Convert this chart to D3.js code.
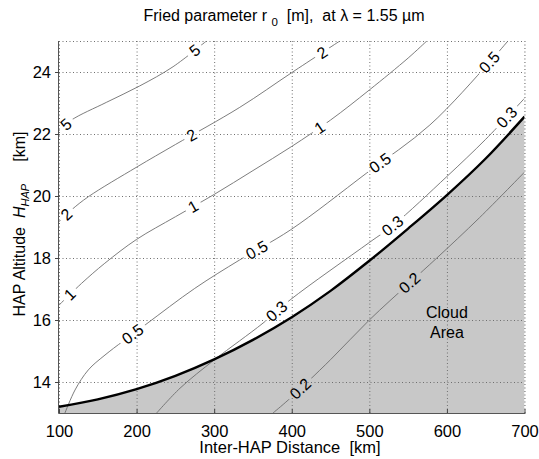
<!DOCTYPE html>
<html><head><meta charset="utf-8">
<script src="https://cdn.jsdelivr.net/npm/d3@7"></script>
<style>
body{margin:0;background:#fff;}
text{font-family:"Liberation Sans",Arial,Helvetica,sans-serif;fill:#000;}
</style></head><body>
<svg id="chart" width="539" height="459"></svg>
<script>
// ---- data ----
const xTicks = [100, 200, 300, 400, 500, 600, 700];
const yTicks = [14, 16, 18, 20, 22, 24];

// thick cloud boundary
const boundaryX = [100, 150, 200, 250, 300, 350, 400, 450, 500, 550, 600, 650, 700];
const boundaryY = [13.2, 13.44, 13.77, 14.2, 14.73, 15.36, 16.09, 16.94, 17.91, 18.95, 20.03, 21.21, 22.56];

// contour lines (r0 levels)
const c5X = [100, 116, 161, 204, 247, 290];
const c5Y = [22.1, 22.45, 23.02, 23.55, 24.17, 25.0];
const c2X = [100, 116, 138, 200, 250, 333, 400, 462];
const c2Y = [19.17, 19.55, 19.98, 20.93, 21.66, 22.86, 23.98, 25.0];
const c1X = [100, 129, 159, 200, 250, 300, 350, 400, 450, 500, 550, 574];
const c1Y = [16.48, 17.18, 17.83, 18.6, 19.33, 20.05, 20.82, 21.6, 22.45, 23.42, 24.45, 25.0];
const c05X = [107.7, 120.6, 137.8, 159.3, 211, 275, 333, 398, 496, 578, 655, 678.6];
const c05Y = [13.0, 13.74, 14.39, 14.87, 15.84, 17.02, 17.94, 18.9, 20.73, 22.29, 24.32, 25.0];
const c03X = [225.9, 256, 301, 363, 398, 500, 531, 600, 650, 700];
const c03Y = [13.0, 13.8, 14.73, 15.9, 16.65, 18.5, 19.06, 20.63, 21.83, 23.15];
const c02X = [375.8, 395.5, 450, 500, 552, 587, 642, 700];
const c02Y = [13.0, 13.42, 14.72, 16.0, 17.2, 18.0, 19.3, 20.77];

const levelNames = ["5", "2", "1", "0.5", "0.3", "0.2"];
const levelXs = [c5X, c2X, c1X, c05X, c03X, c02X];
const levelYs = [c5Y, c2Y, c1Y, c05Y, c03Y, c02Y];

// inline contour labels: level and x position (km)
const labelLevel = ["5", "5", "2", "2", "2", "1", "1", "1", "0.5", "0.5", "0.5", "0.5", "0.3", "0.3", "0.3", "0.2", "0.2"];
const labelAtX   = [109, 275, 110, 271, 439, 114, 273, 436, 195, 355, 514, 655, 381, 530, 677, 411, 552];

// ---- drawing ----
const svg = d3.select("#chart");
const L = 59, R = 524.5, T = 41, B = 413;
const x = d3.scaleLinear().domain([100, 700]).range([L, R]);
const y = d3.scaleLinear().domain([13, 25]).range([B, T]);

svg.append("rect").attr("width", 539).attr("height", 459).attr("fill", "#fff");
const defs = svg.append("defs");
defs.append("clipPath").attr("id", "plotClip").append("rect")
  .attr("x", L).attr("y", T).attr("width", R - L).attr("height", B - T);
const mask = defs.append("mask").attr("id", "gapMask").attr("maskUnits", "userSpaceOnUse")
  .attr("x", 0).attr("y", 0).attr("width", 539).attr("height", 459);
mask.append("rect").attr("width", 539).attr("height", 459).attr("fill", "#fff");

const plot = svg.append("g").attr("clip-path", "url(#plotClip)");

const curve = d3.curveCatmullRom.alpha(0.5);
const bPts = boundaryX.map((d, i) => [d, boundaryY[i]]);
plot.append("path")
  .attr("d", d3.area().x(d => x(d[0])).y0(y(13)).y1(d => y(d[1])).curve(curve)(bPts))
  .attr("fill", "#c8c8c8");

// grid
const grid = plot.append("g").attr("stroke", "#6f6f6f").attr("stroke-width", 1).attr("stroke-dasharray", "1,2.5");
xTicks.forEach(t => grid.append("line").attr("x1", x(t) + 0.5).attr("x2", x(t) + 0.5).attr("y1", T).attr("y2", B));
yTicks.forEach(t => grid.append("line").attr("y1", Math.round(y(t)) + 0.5).attr("y2", Math.round(y(t)) + 0.5).attr("x1", L).attr("x2", R));

// contours
const line = d3.line().x(d => x(d[0])).y(d => y(d[1])).curve(curve);
const cg = plot.append("g").attr("mask", "url(#gapMask)");
const paths = {};
levelNames.forEach((name, i) => {
  const pts = levelXs[i].map((d, j) => [d, levelYs[i][j]]);
  paths[name] = cg.append("path").attr("d", line(pts))
    .attr("fill", "none").attr("stroke", "#6e6e6e").attr("stroke-width", 0.9).node();
});

// boundary
plot.append("path").attr("d", line(bPts)).attr("fill", "none")
  .attr("stroke", "#000").attr("stroke-width", 2.4);

// labels
const lg = svg.append("g");
labelLevel.forEach((lev, i) => {
  const node = paths[lev];
  const len = node.getTotalLength();
  const px = x(labelAtX[i]);
  let best = 0, bd = 1e9;
  for (let s = 0; s <= 600; s++) {
    const p = node.getPointAtLength(len * s / 600);
    const dd = Math.abs(p.x - px);
    if (dd < bd) { bd = dd; best = len * s / 600; }
  }
  const p = node.getPointAtLength(best);
  const p1 = node.getPointAtLength(Math.max(0, best - 6));
  const p2 = node.getPointAtLength(Math.min(len, best + 6));
  let ang = Math.atan2(p2.y - p1.y, p2.x - p1.x) * 180 / Math.PI;
  if (ang > 90) ang -= 180;
  if (ang < -90) ang += 180;
  const t = lg.append("text").attr("x", 0).attr("y", 0)
    .attr("text-anchor", "middle").attr("dominant-baseline", "central")
    .attr("font-size", 16)
    .attr("transform", `translate(${p.x},${p.y}) rotate(${ang})`)
    .text(lev);
  const w = t.node().getComputedTextLength();
  mask.append("rect").attr("x", -w / 2 - 4).attr("y", -7).attr("width", w + 8).attr("height", 14)
    .attr("fill", "#000").attr("transform", `translate(${p.x},${p.y}) rotate(${ang})`);
});

// cloud area text
svg.append("text").attr("x", x(600)).attr("y", y(16.06)).attr("text-anchor", "middle")
  .attr("font-size", 16).text("Cloud");
svg.append("text").attr("x", x(600)).attr("y", y(15.42)).attr("text-anchor", "middle")
  .attr("font-size", 16).text("Area");

// axes frame
svg.append("line").attr("x1", L).attr("x2", R).attr("y1", T + 0.5).attr("y2", T + 0.5)
  .attr("stroke", "#6f6f6f").attr("stroke-dasharray", "1,2.5");
svg.append("line").attr("x1", R + 0.5).attr("x2", R + 0.5).attr("y1", T).attr("y2", B)
  .attr("stroke", "#6f6f6f").attr("stroke-dasharray", "1,2.5");
svg.append("line").attr("x1", L - 0.5).attr("x2", L - 0.5).attr("y1", T).attr("y2", B + 0.5)
  .attr("stroke", "#555").attr("stroke-width", 1);
svg.append("line").attr("x1", L - 0.5).attr("x2", R + 1).attr("y1", B + 0.5).attr("y2", B + 0.5)
  .attr("stroke", "#555").attr("stroke-width", 1);

// ticks
xTicks.forEach(t => svg.append("line").attr("x1", x(t) + 0.5).attr("x2", x(t) + 0.5).attr("y1", B).attr("y2", B - 4).attr("stroke", "#444"));
yTicks.forEach(t => svg.append("line").attr("x1", L - 4).attr("x2", L).attr("y1", Math.round(y(t)) + 0.5).attr("y2", Math.round(y(t)) + 0.5).attr("stroke", "#444"));

// tick labels via d3 axes (styled)
const xAxis = svg.append("g").attr("transform", `translate(0,${B})`)
  .call(d3.axisBottom(x).tickValues(xTicks).tickSize(0).tickPadding(12).tickFormat(d3.format("d")));
xAxis.select(".domain").remove();
xAxis.selectAll("text").attr("font-size", 16.5).attr("font-family", '"Liberation Sans",Arial,sans-serif').attr("fill", "#000");
const yAxis = svg.append("g").attr("transform", `translate(${L},0)`)
  .call(d3.axisLeft(y).tickValues(yTicks).tickSize(0).tickPadding(8).tickFormat(d3.format("d")));
yAxis.select(".domain").remove();
yAxis.selectAll("text").attr("font-size", 16.5).attr("font-family", '"Liberation Sans",Arial,sans-serif').attr("fill", "#000");

// title
const title = svg.append("text").attr("x", 284).attr("y", 21).attr("text-anchor", "middle")
  .attr("font-size", 16).style("white-space", "pre");
title.append("tspan").text("Fried parameter r ");
title.append("tspan").attr("font-size", 11.5).attr("dy", 5).text("0");
title.append("tspan").attr("dy", -5).text("  [m],  at \u03BB = 1.55 \u00B5m");

// x label
svg.append("text").attr("x", 290).attr("y", 453).attr("text-anchor", "middle")
  .attr("font-size", 16.5).style("white-space", "pre").text("Inter-HAP Distance  [km]");

// y label
const yl = svg.append("text").attr("transform", "translate(25,224) rotate(-90)")
  .attr("text-anchor", "middle").attr("font-size", 16).style("white-space", "pre");
yl.append("tspan").text("HAP Altitude  ");
yl.append("tspan").attr("font-style", "italic").text("H");
yl.append("tspan").attr("font-style", "italic").attr("font-size", 11).attr("dy", 4).text("HAP");
yl.append("tspan").attr("dy", -4).text("     [km]");
</script>
</body></html>
